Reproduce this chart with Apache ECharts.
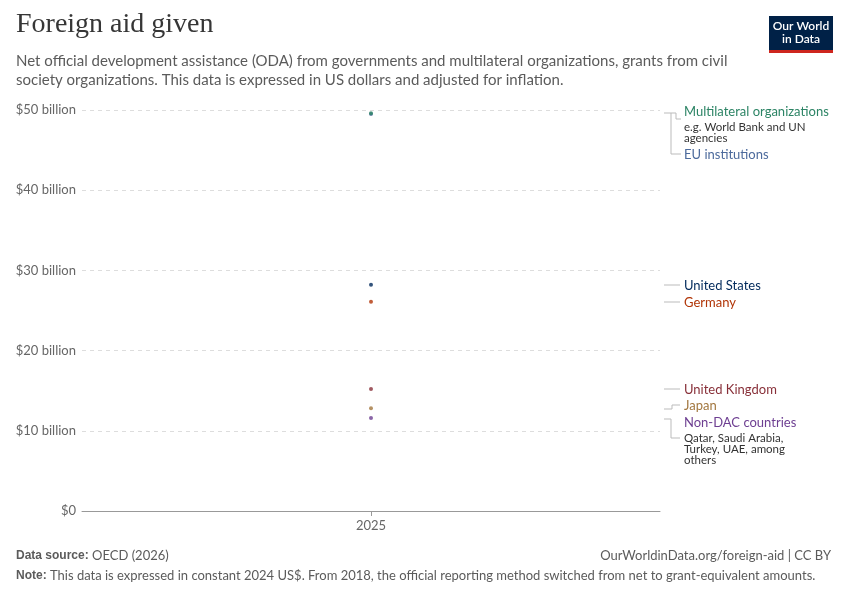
<!DOCTYPE html>
<html>
<head>
<meta charset="utf-8">
<script src="https://cdn.jsdelivr.net/npm/echarts@6/dist/echarts.min.js"></script>
<style>
  html, body { margin: 0; padding: 0; background: #fff; }
  #chart { width: 850px; height: 600px; }
</style>
</head>
<body>
<div id="chart"></div>
<script>
// data (billions of constant 2024 US$)
const years = ['2025'];
const seriesNames = ['EU institutions', 'Multilateral organizations', 'United States', 'Germany', 'United Kingdom', 'Japan', 'Non-DAC countries'];
const seriesValues = [49.5, 49.6, 28.2, 26.1, 15.2, 12.8, 11.6];
const seriesColors = ['#4c6a9c', '#2c8465', '#00295b', '#b13507', '#883039', '#a2773f', '#6d3e91'];
const yTicks = [0, 10, 20, 30, 40, 50];

const chart = echarts.init(document.getElementById('chart'));
const font = 'Lato, "Noto Sans", sans-serif';

const series = seriesNames.map((name, i) => ({
  name: name,
  type: 'scatter',
  symbolSize: 4,
  itemStyle: { color: seriesColors[i] },
  data: [seriesValues[i]],
  z: 2 + i
}));

// right-hand labels: [text, colour, y, subtitle lines]
const labels = [
  ['Multilateral organizations', '#2c8465', 111, ['e.g. World Bank and UN', 'agencies']],
  ['EU institutions', '#4c6a9c', 154, []],
  ['United States', '#00295b', 285, []],
  ['Germany', '#b13507', 302, []],
  ['United Kingdom', '#883039', 389, []],
  ['Japan', '#a2773f', 405, []],
  ['Non-DAC countries', '#6d3e91', 422, ['Qatar, Saudi Arabia,', 'Turkey, UAE, among', 'others']]
];

const graphic = [
  { type: 'text', left: 16, top: 11, style: { text: 'Foreign aid given', font: '28px "Liberation Serif", "DejaVu Serif", serif', fill: '#363636' } },
  { type: 'text', left: 16, top: 52, style: { text: 'Net official development assistance (ODA) from governments and multilateral organizations, grants from civil\nsociety organizations. This data is expressed in US dollars and adjusted for inflation.', font: '15px ' + font, fill: '#5b5b5b', lineHeight: 19 } },
  { type: 'rect', shape: { x: 769, y: 16, width: 64, height: 34 }, style: { fill: '#002147' } },
  { type: 'rect', shape: { x: 769, y: 50, width: 64, height: 3 }, style: { fill: '#ce261e' } },
  { type: 'text', x: 801, y: 33, style: { text: 'Our World\nin Data', font: '600 12px ' + font, fill: '#fff', align: 'center', verticalAlign: 'middle', lineHeight: 13 } },
  { type: 'text', left: 16, top: 549, style: { rich: { b: { font: '13px ' + font, fill: '#5b5b5b', fontWeight: 600 }, n: { font: '13px ' + font, fill: '#5b5b5b' } }, text: '{b|Data source:} {n|OECD (2026)}' } },
  { type: 'text', right: 19, top: 549, style: { text: 'OurWorldinData.org/foreign-aid | CC BY', font: '13px ' + font, fill: '#5b5b5b', align: 'right' } },
  { type: 'text', left: 16, top: 569, style: { rich: { b: { font: '13px ' + font, fill: '#5b5b5b', fontWeight: 600 }, n: { font: '13px ' + font, fill: '#5b5b5b' } }, text: '{b|Note:} {n|This data is expressed in constant 2024 US$. From 2018, the official reporting method switched from net to grant-equivalent amounts.}' } }
];

labels.forEach(l => {
  graphic.push({ type: 'text', left: 684, top: l[2] - 6, style: { text: l[0], font: '13px ' + font, fill: l[1] } });
  if (l[3].length) {
    graphic.push({ type: 'text', left: 684, top: l[2] + 10, style: { text: l[3].join('\n'), font: '11.5px ' + font, fill: '#333', lineHeight: 11 } });
  }
});

const lineStyle = { stroke: '#bbb', lineWidth: 1, fill: null };
const connectors = [
  [[664, 113], [676, 113], [676, 119], [681, 119]],
  [[671, 113], [671, 154], [681, 154]],
  [[664, 285], [680, 285]],
  [[664, 302], [680, 302]],
  [[664, 389], [680, 389]],
  [[664, 409], [672, 409], [672, 405], [680, 405]],
  [[664, 419], [671, 419], [671, 438], [680, 438]]
];
connectors.forEach(pts => graphic.push({ type: 'polyline', shape: { points: pts }, style: lineStyle, silent: true }));

chart.setOption({
  animation: false,
  textStyle: { fontFamily: font },
  grid: { left: 82, right: 190, top: 110, bottom: 89, containLabel: false },
  xAxis: {
    type: 'category',
    data: years,
    boundaryGap: true,
    axisLine: { lineStyle: { color: '#999' } },
    axisTick: { show: true, alignWithLabel: true, length: 5, lineStyle: { color: '#999' } },
    axisLabel: { color: '#666', fontSize: 13, margin: 8 }
  },
  yAxis: {
    type: 'value',
    min: yTicks[0],
    max: yTicks[yTicks.length - 1],
    interval: 10,
    axisLine: { show: false },
    axisTick: { show: false },
    axisLabel: { color: '#666', fontSize: 13, margin: 6, formatter: v => v === 0 ? '$0' : '$' + v + ' billion' },
    splitLine: { lineStyle: { color: '#ddd', type: [4, 4] } }
  },
  series: series,
  graphic: graphic
});
</script>
</body>
</html>
